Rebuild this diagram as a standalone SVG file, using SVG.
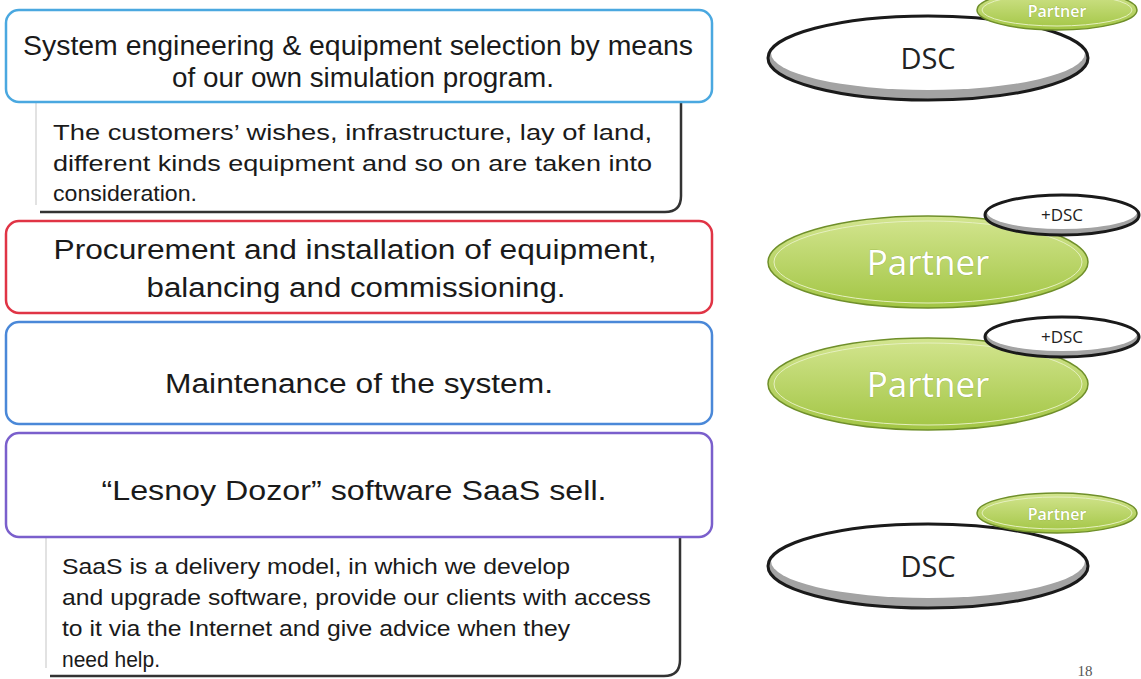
<svg xmlns="http://www.w3.org/2000/svg" width="1141" height="679" viewBox="0 0 1141 679">
<defs>
<style>
.t{font-family:"Liberation Sans",Arial,sans-serif;fill:#1a1a1a}
.big{font-size:27px}
.mid{font-size:22px}
.sdsc{font-family:"Open Sans","DejaVu Sans",sans-serif;fill:#222}
.swht{font-family:"Open Sans","DejaVu Sans",sans-serif;fill:#ffffff;stroke:#8fae3c;stroke-width:0.6;paint-order:stroke}
.box{fill:#ffffff;stroke-width:2.5}
.sub{fill:none;stroke:#333;stroke-width:2.5}
.subl{fill:none;stroke:#d8d8d8;stroke-width:1.5}
.gray{fill:#a3a3a3}
.white{fill:#ffffff}
.dsc{fill:none;stroke:#1a1a1a;stroke-width:3}
.grn{fill:url(#g);stroke:#6f8f2a;stroke-width:1.5}
.gin{fill:none;stroke:#e6f0c0;stroke-width:1}
</style>
<linearGradient id="g" x1="0" y1="0" x2="0" y2="1">
<stop offset="0" stop-color="#d3e58f"/>
<stop offset="1" stop-color="#a2c544"/>
</linearGradient>
</defs>
<rect width="1141" height="679" fill="#ffffff"/>

<g id="box1">
<path class="subl" d="M36 102 V205"/>
<path class="sub" d="M681 102 V196 Q681 212 665 212 H40"/>
<rect class="box" x="6" y="10" width="706" height="92" rx="13" stroke="#4aa8e0"/>
<text class="t big" x="358" y="55" text-anchor="middle" textLength="670" lengthAdjust="spacingAndGlyphs">System engineering &amp; equipment selection by means</text>
<text class="t big" x="363" y="87" text-anchor="middle" textLength="382" lengthAdjust="spacingAndGlyphs">of our own simulation program.</text>
<text class="t mid" x="53" y="140" textLength="599" lengthAdjust="spacingAndGlyphs">The customers’ wishes, infrastructure, lay of land,</text>
<text class="t mid" x="53" y="171" textLength="599" lengthAdjust="spacingAndGlyphs">different kinds equipment and so on are taken into</text>
<text class="t mid" x="53" y="201" textLength="144" lengthAdjust="spacingAndGlyphs">consideration.</text>
</g>

<g id="box2">
<rect class="box" x="6" y="221" width="706" height="92" rx="13" stroke="#e03445"/>
<text class="t big" x="355" y="259" text-anchor="middle" textLength="603" lengthAdjust="spacingAndGlyphs">Procurement and installation of equipment,</text>
<text class="t big" x="356" y="297" text-anchor="middle" textLength="419" lengthAdjust="spacingAndGlyphs">balancing and commissioning.</text>
</g>

<g id="box3">
<rect class="box" x="6" y="322" width="706" height="102" rx="13" stroke="#4a88d8"/>
<text class="t big" x="359" y="393" text-anchor="middle" textLength="388" lengthAdjust="spacingAndGlyphs">Maintenance of the system.</text>
</g>

<g id="box4">
<path class="subl" d="M46 537 V668"/>
<path class="sub" d="M680 537 V660 Q680 676 664 676 H50"/>
<rect class="box" x="6" y="433" width="706" height="104" rx="13" stroke="#7a5fcc"/>
<text class="t big" x="354" y="500" text-anchor="middle" textLength="505" lengthAdjust="spacingAndGlyphs">“Lesnoy Dozor” software SaaS sell.</text>
<text class="t mid" x="62" y="574" textLength="508" lengthAdjust="spacingAndGlyphs">SaaS is a delivery model, in which we develop</text>
<text class="t mid" x="62" y="605" textLength="589" lengthAdjust="spacingAndGlyphs">and upgrade software, provide our clients with access</text>
<text class="t mid" x="62" y="636" textLength="508" lengthAdjust="spacingAndGlyphs">to it via the Internet and give advice when they</text>
<text class="t mid" x="62" y="667" textLength="98" lengthAdjust="spacingAndGlyphs">need help.</text>
</g>

<g id="role1">
<ellipse class="gray" cx="928" cy="58" rx="160" ry="42"/>
<ellipse class="white" cx="928" cy="53" rx="157" ry="37"/>
<ellipse class="dsc" cx="928" cy="58" rx="160" ry="42"/>
<text class="sdsc" x="928" y="69" font-size="29" text-anchor="middle">DSC</text>
<ellipse class="grn" cx="1057" cy="10" rx="80" ry="20"/>
<ellipse class="gin" cx="1057" cy="10" rx="75" ry="16"/>
<text class="swht" x="1057" y="17" font-size="16" font-weight="600" text-anchor="middle">Partner</text>
</g>

<g id="role2">
<ellipse class="grn" cx="928" cy="262" rx="160" ry="46"/>
<ellipse class="gin" cx="928" cy="262" rx="154" ry="41"/>
<text class="swht" x="928" y="275" font-size="35" text-anchor="middle">Partner</text>
<ellipse class="gray" cx="1062" cy="215" rx="77" ry="20"/>
<ellipse class="white" cx="1062" cy="212" rx="75" ry="17"/>
<ellipse class="dsc" cx="1062" cy="215" rx="77" ry="20"/>
<text class="sdsc" x="1062" y="221" font-size="17" text-anchor="middle">+DSC</text>
</g>

<g id="role3">
<ellipse class="grn" cx="928" cy="384" rx="160" ry="46"/>
<ellipse class="gin" cx="928" cy="384" rx="154" ry="41"/>
<text class="swht" x="928" y="397" font-size="35" text-anchor="middle">Partner</text>
<ellipse class="gray" cx="1062" cy="337" rx="77" ry="20"/>
<ellipse class="white" cx="1062" cy="334" rx="75" ry="17"/>
<ellipse class="dsc" cx="1062" cy="337" rx="77" ry="20"/>
<text class="sdsc" x="1062" y="343" font-size="17" text-anchor="middle">+DSC</text>
</g>

<g id="role4">
<ellipse class="gray" cx="928" cy="566" rx="160" ry="42"/>
<ellipse class="white" cx="928" cy="561" rx="157" ry="37"/>
<ellipse class="dsc" cx="928" cy="566" rx="160" ry="42"/>
<text class="sdsc" x="928" y="577" font-size="29" text-anchor="middle">DSC</text>
<ellipse class="grn" cx="1057" cy="513" rx="80" ry="20"/>
<ellipse class="gin" cx="1057" cy="513" rx="75" ry="16"/>
<text class="swht" x="1057" y="520" font-size="16" font-weight="600" text-anchor="middle">Partner</text>
</g>

<g id="connectors"></g>

<text x="1085" y="676" font-family="Liberation Serif,serif" font-size="15" fill="#555" text-anchor="middle">18</text>
</svg>
